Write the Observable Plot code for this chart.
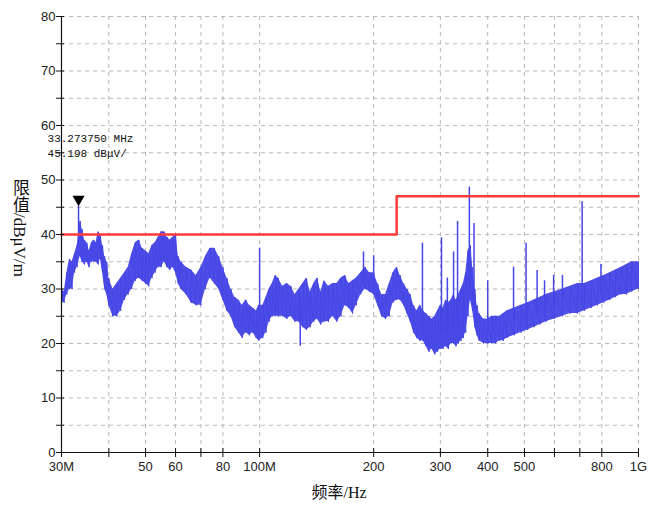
<!DOCTYPE html>
<html><head><meta charset="utf-8">
<script src="https://cdn.jsdelivr.net/npm/d3@7"></script>
<script src="https://cdn.jsdelivr.net/npm/@observablehq/plot@0.6"></script>
<style>
body{margin:0;background:#fff;}
#wrap{position:relative;width:648px;height:507px;}
#wrap svg{display:block;}
#ylab{position:absolute;left:11px;top:179px;writing-mode:vertical-rl;font-family:"Liberation Serif","Noto Sans CJK SC",serif;font-size:17px;color:#111;line-height:1;}
</style></head><body><div id="wrap"><div id="ylab">限值/dBμV/m</div></div>
<script>
// spectrum envelope (MHz, dBμV/m)
const freq = [30,30.5,31,31.5,32,32.5,33,33.6,34,34.5,35,35.5,36,36.5,37,37.5,38,38.5,39,39.5,40,41,42,43,44,45,46,47,48,49,50,51,52,53,54,55,56,57,58,59,60,61,62,64,66,68,70,72,74,76,78,80,82,84,86,88,90,92,94,96,98,99.5,102,104,106,108,110,112,115,118,121,124,127,130,133,136,139,142,145,148,152,156,160,164,168,172,176,180,185,190,195,200,205,210,215,220,225,230,235,240,245,250,255,260,265,270,275,280,285,290,295,300,305,310,315,320,325,330,335,340,345,350,355,360,365,370,375,380,390,400,410,420,430,440,450,470,490,510,530,550,570,600,630,660,690,720,750,780,810,840,870,900,930,960,1000];
const lo = [27.5,27.5,29,30,30,33,34,36,35,34.5,35,34,35,35,35,34.5,35.5,33,30,29,27,25,25,26,28,29,30,31.5,32,31.5,31,30.5,32,33,34,34,35,34,33.5,34,33,31,30,29,27.5,27,27,30,32,31,30,28,26,25,23,22,21,22,21.5,22,21,20.5,21,22,24,25,25,25,25,24.5,25,24,24,23,22.5,23,24,24.5,23.5,24,24,25,24,25,27,26.5,25.5,27,29,30,29.5,29,27,25,24.5,25,27.5,28,28,27,25.5,24,22,21,20.5,20.5,19.5,18.5,19,18,18.5,19,19,19.5,19,20,20,19.5,20,20.5,21,22,25,28,26,23,21.5,20.5,20,20,20,20,20.5,20.5,21,21.5,22,22.5,23,23.5,24,24.5,25,25.5,25.5,26,26.5,27,27.5,28,28.5,29,29,29.5,30];
const hi = [30,29.5,33,35.5,35,36.5,38,42.5,41,39,38.5,37,38.5,39,38.5,40.5,40,38,36,35,32,30,31,32,33,34,36.5,38.5,39,37.5,37,36.5,38,38.5,39.5,40.5,40.5,39.5,39,39.5,40,36,35,34,33.5,32.5,34,36,37.5,37.5,36,34,32,30,28.5,28,27,28,27,26.5,26,27,27,28.5,30,31,32.5,32,30.5,31,30.5,29,30,31,32,29.5,31,32,29.5,31.5,30.5,31,31,32,32.5,31,31.5,32,33,34,33,33,31,29,29,31,33,34,32.5,31,30,29,27,26,27,26,25.5,25,24.5,25,26,27,26.5,28,27.5,28,29,28,29,30,31,33,37,38,34,30,27,25.5,24.5,24.5,25,25,25,25.5,26,26.5,27,27.5,28,28.5,29,29.5,30,30.5,31,31,31.5,32,32.5,33,33.5,34,34.5,35,35];
// narrow emissions (MHz, base, top)
const spikeFreq = [33.27375,100,128,188,200,269,302,313,325,333,357.7,368,400,468,505,540,565,597,630,710,796];
const spikeLo   = [38,25,19.5,31,31,24,22,22,24,24,30,26,22,24,24,25,25,26,26,28,29];
const spikeHi   = [45.198,37.5,28,36.8,36.1,38.4,39.4,32,36.8,42.4,48.7,42,31.5,34,38.4,33.4,31.5,32.5,32.5,46,34.5];
// limit line
const limitFreq = [30,230,230,1000];
const limitVal  = [40,40,47,47];
// marker
const markerFreq = 33.27375, markerVal = 45.198;
const markerText = ["33.273750 MHz","45.198 dBμV/"];
// ticks
const yTicks = [0,5,10,15,20,25,30,35,40,45,50,55,60,65,70,75,80];
const xTicks = [30,40,50,60,70,80,100,200,300,400,500,600,700,800,1000];
const xTickLabels = ["30M","","50","60","","80","100M","200","300","400","500","","","800","1G"];
const xLabel = "频率/Hz";

const blue = "#4646e6", red = "#ff3a3a";
const idx = d3.range(freq.length);
const zig = [];
idx.forEach(i => { zig.push({f: freq[i], v: lo[i]}); zig.push({f: freq[i], v: hi[i]}); });
const sIdx = d3.range(spikeFreq.length);
const xIdx = d3.range(xTicks.length);
const limit = limitFreq.map((f, i) => ({f, v: limitVal[i]}));

const W = 648, H = 507, mL = 61, mR = 10, mT = 16, mB = 55;
const frameW = W - mL - mR, frameH = H - mT - mB;
const gridStyle = {stroke: "#b8b8b8", strokeOpacity: 1, strokeDasharray: "4,4"};
const markerStyle = {x: () => markerFreq, y: () => markerVal, text: d => d, dx: -31, textAnchor: "start", fontFamily: "Liberation Mono, DejaVu Sans Mono, monospace", fontSize: 11, fill: "#111"};
const plot = Plot.plot({
  width: W, height: H,
  marginLeft: mL, marginRight: mR, marginTop: mT, marginBottom: mB,
  style: {fontFamily: "Liberation Sans, Arial, sans-serif", fontSize: "13px", background: "white", color: "#222"},
  x: {type: "log", domain: [30, 1000], axis: null},
  y: {domain: [0, 80]},
  marks: [
    Plot.gridY(yTicks, gridStyle),
    Plot.gridX(xTicks, gridStyle),
    Plot.areaY(idx, {x: i => freq[i], y1: i => lo[i], y2: i => hi[i], fill: blue, fillOpacity: 0.95}),
    Plot.line(zig, {x: "f", y: "v", stroke: blue, strokeWidth: 1}),
    Plot.ruleX(sIdx, {x: i => spikeFreq[i], y1: i => spikeLo[i], y2: i => spikeHi[i], stroke: blue, strokeWidth: 1.5}),
    Plot.line(limit, {x: "f", y: "v", stroke: red, strokeWidth: 2.5}),
    Plot.ruleX([30], {stroke: "#111", strokeWidth: 1.2}),
    Plot.ruleY([0], {stroke: "#111", strokeWidth: 1.2}),
    // y ticks crossing the axis
    Plot.tickY(yTicks, {y: d => d, insetLeft: -5, insetRight: frameW - 3, stroke: "#111"}),
    Plot.axisY(yTicks, {tickSize: 4, tickPadding: 2, stroke: "none", fill: "#222", tickFormat: d => d % 10 === 0 ? String(d) : "", label: null}),
    // x ticks crossing the axis
    Plot.tickX(xTicks, {x: d => d, insetTop: frameH - 4, insetBottom: -5, stroke: "#111"}),
    Plot.text(xIdx, {x: i => xTicks[i], text: i => xTickLabels[i], frameAnchor: "bottom", dy: 18, fill: "#222", fontSize: 13}),
    Plot.dot([0], {x: () => markerFreq, y: () => markerVal, symbol: "triangle", rotate: 180, r: 4.5, fill: "#000", stroke: null, dy: -7}),
    Plot.text([markerText[0]], {...markerStyle, dy: -68}),
    Plot.text([markerText[1]], {...markerStyle, dy: -53}),
    Plot.text([xLabel], {frameAnchor: "bottom", dy: 45, dx: -11, text: d => d, fontSize: 16, fontFamily: "Liberation Serif, Noto Sans CJK SC, serif", fill: "#111"})
  ]
});
document.getElementById("wrap").prepend(plot);
</script>
</body></html>
